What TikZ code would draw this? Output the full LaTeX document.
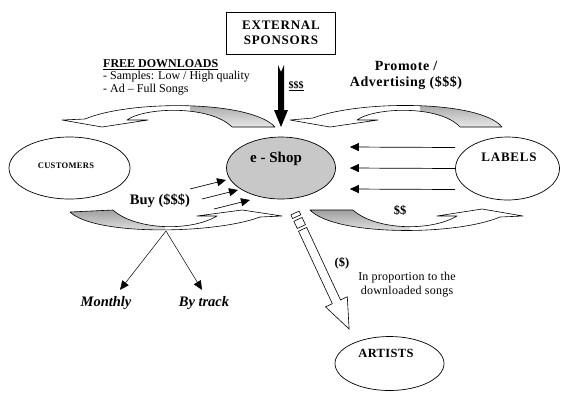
\documentclass[tikz,border=0pt]{standalone}
\usepackage{fontspec}
\setmainfont{Liberation Serif}
\usetikzlibrary{arrows.meta,shapes.geometric}
\definecolor{shade}{RGB}{200,200,200}

\begin{document}
\begin{tikzpicture}[x=1pt,y=-1pt,
	party/.style={draw, ellipse, line width=0.7pt, inner sep=0pt},
	tag/.style={font=\bfseries\fontsize{13}{15}\selectfont\addfontfeature{LetterSpace=6}},
	flow/.style={-{Triangle[length=9pt,width=8pt]}, line width=0.7pt},
	band/.style={draw, fill=white, line width=0.6pt, line join=round}]
	\useasboundingbox (0,0) rectangle (561,392);

	% curved flows
	\draw[band, path picture={\fill[shade] (190,90) rectangle (290,135);}]
	  (275,127) .. controls (250,100) and (130,100) .. (85,119) -- (62,120) -- (102,127) -- (148,120) -- (127,120) .. controls (145,107) and (210,105) .. (232,127) -- cycle;
	\draw[band, path picture={\fill[shade] (420,90) rectangle (510,135);}]
	  (502,127) .. controls (480,100) and (360,100) .. (313,118) -- (290,120) -- (330,127) -- (378,120) -- (357,120) .. controls (375,107) and (440,105) .. (460,127) -- cycle;
	\draw[band, path picture={\fill[shade] (60,200) rectangle (165,240);}]
	  (70,212) .. controls (95,236) and (215,234) .. (260,217) -- (282,216) -- (242,210) -- (197,216) -- (217,216) .. controls (190,232) and (135,230) .. (113,210) -- cycle;
	\draw[band, path picture={\fill[shade] (300,200) rectangle (410,240);}]
	  (310,210) .. controls (335,236) and (455,236) .. (500,217) -- (523,216) -- (482,209) -- (437,216) -- (457,216) .. controls (430,232) and (375,230) .. (353,210) -- cycle;

	\node[draw, line width=0.7pt, minimum width=109pt, minimum height=42pt, align=center, tag] (sponsors) at (281,33) {EXTERNAL\\SPONSORS};
	\node[party, fill=shade, minimum width=109pt, minimum height=62pt] (shop) at (281,168) {};
	\node[party, minimum width=121pt, minimum height=62pt] (customers) at (69.5,168) {};
	\node[party, minimum width=104pt, minimum height=63pt] (labels) at (507.5,168.5) {};
	\node[party, minimum width=109pt, minimum height=54pt] (artists) at (389.5,363.5) {};

	\node[font=\bfseries\fontsize{15}{17}\selectfont] (shopname) at ([shift={(-5,-9)}]shop.center) {e - Shop};
	\node[font=\bfseries\fontsize{8.5}{10}\selectfont\addfontfeature{LetterSpace=4}] (custname) at ([shift={(-3.5,-2)}]customers.center) {CUSTOMERS};
	\node[tag] (labelname) at ([shift={(1.5,-11.5)}]labels.center) {LABELS};
	\node[font=\bfseries\fontsize{12.5}{14}\selectfont\addfontfeature{LetterSpace=3}] (artistname) at ([shift={(-3.5,-10.5)}]artists.center) {ARTISTS};

	% sponsor money
	\fill (278,65) -- (281,72) -- (284,65) -- (284,110) -- (288,110) -- (281,127) -- (274,110) -- (278,110) -- cycle;
	\node[font=\bfseries\fontsize{10}{12}\selectfont] (fee) at (296,86) {\underline{\$\$\$}};

	\node[anchor=north west, align=left, inner sep=0pt, font=\fontsize{12}{12.5}\selectfont] (free) at (103,59) {\underline{\textbf{FREE DOWNLOADS}}\\- Samples: Low / High quality\\- Ad -- Full Songs};
	\node[align=center, font=\bfseries\fontsize{14}{16}\selectfont\addfontfeature{LetterSpace=4}] (promote) at (406,75) {Promote /\\Advertising (\$\$\$)};

	\foreach \dy in {-21,0,21}
	  \draw[flow] ([shift={(0,\dy)}]labels.west) -- ([shift={(14,\dy)}]shop.east);
	\foreach \i in {0,1,2}
	  \draw[flow] ([shift={(-91+12*\i,21+10*\i)}]shop.center) -- ([shift={(-55+12*\i,12+10*\i)}]shop.center);
	\node[font=\bfseries\fontsize{14.5}{16}\selectfont] (buy) at (160,201) {Buy (\$\$\$)};
	\node[font=\bfseries\fontsize{12.5}{14}\selectfont] (fees) at (400,210) {\$\$};

	% ways to pay
	\coordinate (split) at (166,231);
	\node[font=\bfseries\itshape\fontsize{14.5}{16}\selectfont] (monthly) at (106,303) {Monthly};
	\node[font=\bfseries\itshape\fontsize{14.5}{16}\selectfont] (bytrack) at (204,303) {By track};
	\draw[flow, line width=0.5pt] (split) -- ([shift={(14,-3)}]monthly.north);
	\draw[flow, line width=0.5pt] (split) -- ([shift={(-2,-3)}]bytrack.north);

	% share for the artists
	\begin{scope}[shift={(295,213)}, rotate=-65, line width=0.6pt]
	  \draw[fill=white] (0,-4.5) rectangle (4,4.5);
	  \draw[fill=white] (7,-4.5) rectangle (15,4.5);
	  \draw[fill=white] (18,-4.5) -- (98,-4.5) -- (98,-12) -- (128,0) -- (98,12) -- (98,4.5) -- (18,4.5) -- cycle;
	\end{scope}
	\node[font=\bfseries\fontsize{12.5}{14}\selectfont] (cut) at (342,263) {(\$)};
	\node[align=center, font=\fontsize{12}{14}\selectfont\addfontfeature{LetterSpace=2}] (share) at (407,285) {In proportion to the\\downloaded songs};
\end{tikzpicture}
\end{document}
